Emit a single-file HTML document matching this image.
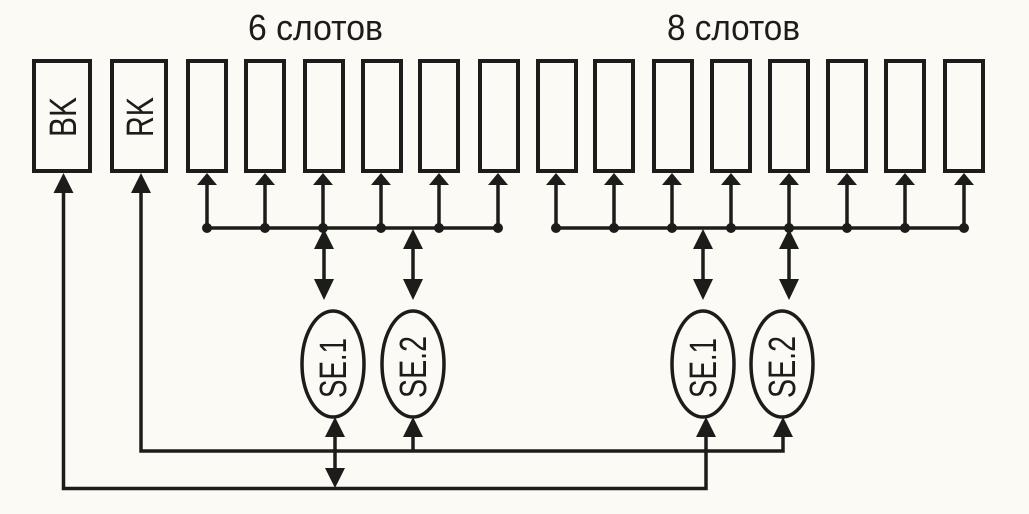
<!DOCTYPE html>
<html><head><meta charset="utf-8"><style>
html,body{margin:0;padding:0;background:#fcfaf4;}
svg{display:block}
text{font-family:"Liberation Sans",sans-serif;fill:#1c1c1a}
</style></head><body>
<svg width="1029" height="514" viewBox="0 0 1029 514" xmlns="http://www.w3.org/2000/svg">
<rect width="1029" height="514" fill="#fcfaf4"/>
<g stroke="#1c1c1a" stroke-width="4" fill="none">
<rect x="34" y="61" width="56" height="110"/>
<rect x="112" y="61" width="54" height="110"/>
<rect x="188" y="61" width="38" height="110"/>
<rect x="246" y="61" width="38" height="110"/>
<rect x="305" y="61" width="38" height="110"/>
<rect x="363" y="61" width="38" height="110"/>
<rect x="420" y="61" width="38" height="110"/>
<rect x="480" y="61" width="38" height="110"/>
<rect x="538" y="61" width="38" height="110"/>
<rect x="595" y="61" width="38" height="110"/>
<rect x="654" y="61" width="38" height="110"/>
<rect x="712" y="61" width="38" height="110"/>
<rect x="770" y="61" width="38" height="110"/>
<rect x="828" y="61" width="38" height="110"/>
<rect x="886" y="61" width="38" height="110"/>
<rect x="945" y="61" width="38" height="110"/>
<ellipse cx="333" cy="364" rx="31" ry="53" stroke-width="3.5"/>
<ellipse cx="413" cy="364" rx="31" ry="53" stroke-width="3.5"/>
<ellipse cx="703" cy="364" rx="31" ry="53" stroke-width="3.5"/>
<ellipse cx="782" cy="364" rx="31" ry="53" stroke-width="3.5"/>
<g stroke-width="3.5">
<path d="M206 228H498M556 228H964"/>
<path d="M207 228V180M265 228V180M323 228V180M381 228V180M439 228V180M498 228V180"/>
<path d="M556 228V180M614 228V180M672 228V180M731 228V180M789 228V180M847 228V180M905 228V180M964 228V180"/>
<path d="M324 240V290M413 240V290M703 240V290M789 240V290"/>
<path d="M63.5 185V488.5H706V425"/>
<path d="M141 185V451H783V425"/>
<path d="M413 451V425M335 430V478"/>
</g>
</g>
<g fill="#1c1c1a">
<g id="dots">
<circle cx="207" cy="228" r="5"/><circle cx="265" cy="228" r="5"/><circle cx="323" cy="228" r="5"/><circle cx="381" cy="228" r="5"/><circle cx="439" cy="228" r="5"/><circle cx="498" cy="228" r="5"/>
<circle cx="556" cy="228" r="5"/><circle cx="614" cy="228" r="5"/><circle cx="672" cy="228" r="5"/><circle cx="731" cy="228" r="5"/><circle cx="789" cy="228" r="5"/><circle cx="847" cy="228" r="5"/><circle cx="905" cy="228" r="5"/><circle cx="964" cy="228" r="5"/>
</g>
<!-- slot arrowheads -->
<path d="M207 173l-10 12h20zM265 173l-10 12h20zM323 173l-10 12h20zM381 173l-10 12h20zM439 173l-10 12h20zM498 173l-10 12h20z"/>
<path d="M556 173l-10 12h20zM614 173l-10 12h20zM672 173l-10 12h20zM731 173l-10 12h20zM789 173l-10 12h20zM847 173l-10 12h20zM905 173l-10 12h20zM964 173l-10 12h20z"/>
<!-- BK/RK arrows -->
<path d="M63.5 173l-10 20h20zM141 173l-10 20h20z"/>
<!-- double arrows top -->
<path d="M324 229l-10 20h20zM324 300l-10 -21h20zM413 229l-10 20h20zM413 300l-10 -21h20z"/>
<path d="M703 229l-10 20h20zM703 300l-10 -21h20zM789 229l-10 20h20zM789 300l-10 -21h20z"/>
<!-- bottom arrows -->
<path d="M335 417l-10 20h20zM335 488l-10 -20h20zM413 417l-10 20h20zM706 417l-10 20h20zM783 417l-10 20h20z"/>
</g>
<text x="248" y="40" font-size="36" textLength="135" lengthAdjust="spacingAndGlyphs">6 слотов</text>
<text x="667" y="40" font-size="36" textLength="133" lengthAdjust="spacingAndGlyphs">8 слотов</text>
<text transform="translate(76,137) rotate(-90)" font-size="38" textLength="40" lengthAdjust="spacingAndGlyphs">BK</text>
<text transform="translate(153,137) rotate(-90)" font-size="38" textLength="40" lengthAdjust="spacingAndGlyphs">RK</text>
<text transform="translate(346,398) rotate(-90)" font-size="38" textLength="60" lengthAdjust="spacingAndGlyphs">SE.1</text>
<text transform="translate(426,398) rotate(-90)" font-size="38" textLength="62" lengthAdjust="spacingAndGlyphs">SE.2</text>
<text transform="translate(716,398) rotate(-90)" font-size="38" textLength="60" lengthAdjust="spacingAndGlyphs">SE.1</text>
<text transform="translate(795,398) rotate(-90)" font-size="38" textLength="62" lengthAdjust="spacingAndGlyphs">SE.2</text>
</svg>
</body></html>
